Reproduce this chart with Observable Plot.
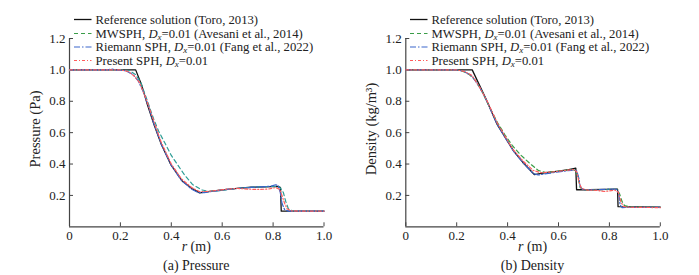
<!DOCTYPE html>
<html><head><meta charset="utf-8">
<script src="https://cdn.jsdelivr.net/npm/d3@7"></script>
<script src="https://cdn.jsdelivr.net/npm/@observablehq/plot@0.6"></script>
<style>
body{margin:0;background:#fff}
#wrap{display:flex;width:699px;height:275px}
svg{display:block}
</style></head>
<body><div id="wrap"></div>
<script>
const xTicks = [0, 0.2, 0.4, 0.6, 0.8, 1.0];
const yTicks = [0.2, 0.4, 0.6, 0.8, 1.0, 1.2];
const seriesNames = ["Reference solution (Toro, 2013)", "MWSPH", "Riemann SPH", "Present SPH"];
const captions = ["(a) Pressure", "(b) Density"];
const yLabels = ["Pressure (Pa)", "Density (kg/m³)"];

const pressureRef = [[0,1],[0.26,1.0],[0.283,0.906],[0.306,0.779],[0.332,0.652],[0.361,0.524],[0.398,0.397],[0.444,0.29],[0.48,0.245],[0.512,0.216],[0.56,0.228],[0.608,0.237],[0.66,0.245],[0.713,0.252],[0.77,0.255],[0.82,0.258],[0.829,0.25],[0.832,0.1],[1.0,0.1]];
const pressureMW = [[0,1],[0.2,1.0],[0.235,0.995],[0.26,0.97],[0.28,0.92],[0.3,0.83],[0.33,0.69],[0.35,0.61],[0.378,0.524],[0.40,0.455],[0.424,0.397],[0.45,0.335],[0.483,0.27],[0.52,0.235],[0.55,0.225],[0.6,0.232],[0.65,0.243],[0.7,0.25],[0.75,0.255],[0.8,0.258],[0.825,0.255],[0.84,0.22],[0.85,0.16],[0.86,0.115],[0.875,0.102],[0.9,0.1],[1,0.1]];
const pressureRiemann = [[0,1],[0.15,1.0],[0.165,1.006],[0.18,1.0],[0.22,0.995],[0.25,0.97],[0.27,0.93],[0.29,0.86],[0.31,0.77],[0.332,0.655],[0.36,0.53],[0.398,0.397],[0.44,0.295],[0.48,0.24],[0.505,0.218],[0.53,0.218],[0.56,0.225],[0.6,0.235],[0.65,0.243],[0.7,0.25],[0.75,0.255],[0.79,0.258],[0.81,0.268],[0.82,0.262],[0.828,0.22],[0.835,0.15],[0.845,0.11],[0.86,0.1],[1,0.1]];
const pressurePresent = [[0,1],[0.2,1.0],[0.23,0.99],[0.255,0.96],[0.275,0.92],[0.3,0.82],[0.33,0.68],[0.36,0.54],[0.4,0.40],[0.44,0.305],[0.48,0.25],[0.51,0.225],[0.54,0.225],[0.58,0.232],[0.62,0.24],[0.66,0.245],[0.7,0.24],[0.74,0.238],[0.78,0.24],[0.81,0.25],[0.825,0.24],[0.835,0.2],[0.845,0.15],[0.855,0.115],[0.87,0.102],[0.9,0.1],[1,0.1]];

const densityRef = [[0,1],[0.261,1.0],[0.313,0.822],[0.359,0.652],[0.424,0.482],[0.46,0.41],[0.505,0.333],[0.55,0.345],[0.6,0.355],[0.64,0.365],[0.668,0.374],[0.671,0.236],[0.72,0.236],[0.78,0.238],[0.832,0.24],[0.834,0.128],[1,0.125]];
const densityMW = [[0,1],[0.2,1.0],[0.225,0.99],[0.25,0.97],[0.275,0.93],[0.3,0.86],[0.33,0.76],[0.36,0.665],[0.39,0.585],[0.42,0.515],[0.45,0.46],[0.49,0.40],[0.52,0.36],[0.55,0.345],[0.6,0.355],[0.64,0.362],[0.66,0.365],[0.675,0.33],[0.685,0.25],[0.7,0.235],[0.75,0.236],[0.8,0.238],[0.83,0.238],[0.84,0.21],[0.85,0.16],[0.86,0.135],[0.88,0.126],[1,0.124]];
const densityRiemann = [[0,1],[0.2,1.0],[0.23,0.99],[0.26,0.96],[0.29,0.89],[0.313,0.82],[0.36,0.65],[0.424,0.48],[0.46,0.41],[0.5,0.34],[0.52,0.33],[0.56,0.34],[0.6,0.35],[0.65,0.36],[0.66,0.365],[0.672,0.355],[0.68,0.31],[0.685,0.26],[0.695,0.236],[0.75,0.236],[0.8,0.24],[0.83,0.238],[0.838,0.2],[0.842,0.14],[0.85,0.122],[0.87,0.124],[1,0.124]];
const densityPresent = [[0,1],[0.2,1.0],[0.23,0.99],[0.26,0.965],[0.29,0.89],[0.32,0.8],[0.36,0.66],[0.42,0.495],[0.46,0.42],[0.5,0.36],[0.53,0.345],[0.58,0.35],[0.62,0.358],[0.66,0.365],[0.672,0.35],[0.68,0.29],[0.69,0.245],[0.71,0.235],[0.75,0.232],[0.78,0.225],[0.8,0.228],[0.82,0.235],[0.835,0.22],[0.845,0.16],[0.855,0.13],[0.87,0.125],[1,0.122]];

const styles = [
  {stroke:"#111", dash:null, width:1.3},
  {stroke:"#3a9d48", dash:"4,3", width:1.2},
  {stroke:"#3a66cc", dash:"6,2,1.5,2", width:1.2},
  {stroke:"#ff5c5c", dash:"3,2,1,2", width:1.2}
];
const FONT = "Liberation Serif, Times New Roman, serif";

function panel(series, opts) {
  const {marginLeft, width, mwColor, caption, ylabel, legendX} = opts;
  const marks = [
    Plot.ruleY([0], {stroke:"#444", strokeWidth:1.2}),
    Plot.ruleX([0], {stroke:"#444", strokeWidth:1.2}),
    Plot.axisX(xTicks, {tickSize:-4, tickPadding:8, stroke:"#444", fill:"#222", fontSize:13, tickFormat: d => d === 0 ? "0" : d.toFixed(1), label:null}),
    Plot.axisY(yTicks, {tickSize:-4, tickPadding:8, stroke:"#444", fill:"#222", fontSize:13, tickFormat: d => d.toFixed(1), label:null})
  ];
  series.forEach((s, i) => {
    const st = styles[i];
    marks.push(Plot.line(s, {x: d => d[0], y: d => d[1], stroke: i === 1 ? mwColor : st.stroke, strokeWidth: st.width, strokeDasharray: st.dash}));
  });
  const svg = Plot.plot({
    width, height: 275,
    marginLeft, marginRight: width - marginLeft - 254.5, marginTop: 38, marginBottom: 48.7,
    style: {fontFamily: FONT, fontSize: "13px", color:"#222", background:"#fff"},
    x: {domain:[0,1]},
    y: {domain:[0,1.2]},
    marks
  });
  const s = d3.select(svg);
  const cx = marginLeft + 254.5/2;
  // x label
  const xl = s.append("text").attr("x", cx).attr("y", 251).attr("text-anchor","middle")
    .attr("font-family", FONT).attr("font-size", 14).attr("fill","#222");
  xl.append("tspan").attr("font-style","italic").text("r");
  xl.append("tspan").text(" (m)");
  // caption
  s.append("text").attr("x", cx).attr("y", 270).attr("text-anchor","middle")
    .attr("font-family", FONT).attr("font-size", 14).attr("fill","#222").text(caption);
  // y label
  s.append("text").attr("transform", `translate(${marginLeft - 29},129) rotate(-90)`).attr("text-anchor","middle")
    .attr("font-family", FONT).attr("font-size", 14.5).attr("fill","#222").text(ylabel);
  // legend
  const rows = [19.5, 33.5, 47, 60.5];
  const entries = [
    [seriesNames[0]],
    [seriesNames[1] + ", ", "D", "x", "=0.01 (Avesani et al., 2014)"],
    [seriesNames[2] + ", ", "D", "x", "=0.01 (Fang et al., 2022)"],
    [seriesNames[3] + ", ", "D", "x", "=0.01"]
  ];
  entries.forEach((e, i) => {
    const st = styles[i];
    const y = rows[i];
    const ln = s.append("line").attr("x1", legendX).attr("x2", legendX + 17.5).attr("y1", y).attr("y2", y)
      .attr("stroke", st.stroke).attr("stroke-width", st.width);
    if (st.dash) ln.attr("stroke-dasharray", st.dash);
    const t = s.append("text").attr("x", legendX + 21.5).attr("y", y + 4.3).attr("text-anchor","start")
      .attr("font-family", FONT).attr("font-size", 12.7).attr("fill","#222");
    t.append("tspan").text(e[0]);
    if (e.length > 1) {
      t.append("tspan").attr("font-style","italic").text(e[1]);
      t.append("tspan").attr("font-style","italic").attr("font-size", 9).attr("dy", 2).text(e[2]);
      t.append("tspan").attr("dy", -2).text(e[3]);
    }
  });
  return svg;
}

const wrap = document.getElementById("wrap");
wrap.appendChild(panel([pressureRef, pressureMW, pressureRiemann, pressurePresent],
  {marginLeft: 69, width: 350, mwColor: "#2e9e96", caption: captions[0], ylabel: yLabels[0], legendX: 74}));
wrap.appendChild(panel([densityRef, densityMW, densityRiemann, densityPresent],
  {marginLeft: 55.3, width: 349, mwColor: "#3a9d48", caption: captions[1], ylabel: yLabels[1], legendX: 60}));
</script>
</body></html>
